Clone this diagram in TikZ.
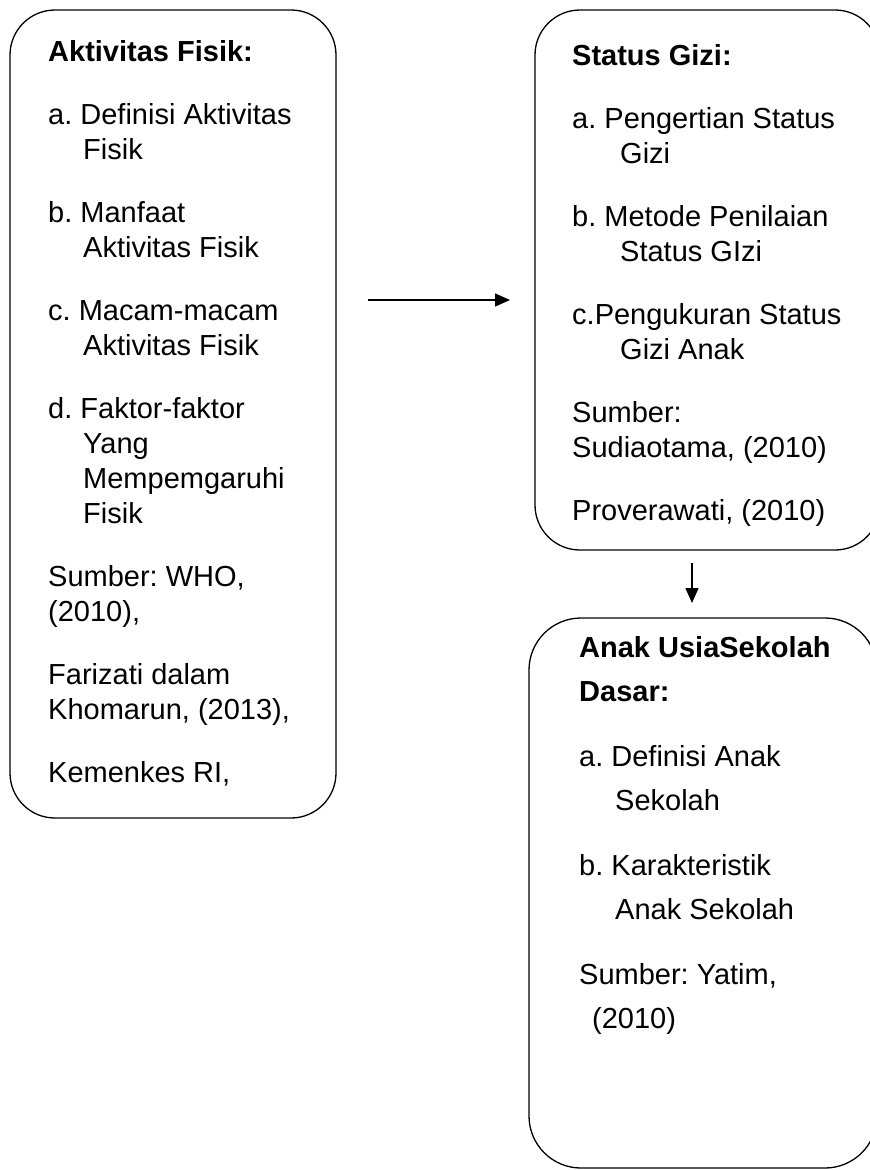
\documentclass[tikz,border=0pt]{standalone}
\usepackage{fontspec}
\setmainfont{Liberation Sans}
\usetikzlibrary{arrows.meta, positioning}

\begin{document}
\frenchspacing
\begin{tikzpicture}[x=1pt, y=-1pt, >={Triangle[length=15pt,width=13pt]},
  panel/.style={draw, line width=1.3pt, rounded corners=45pt},
  teks/.style={anchor=base west, align=left, inner sep=0pt, font=\fontsize{29}{35}\selectfont},
  panah/.style={->, line width=1.5pt}]

\useasboundingbox (0,0) rectangle (870,1170);

% Left box (Aktivitas Fisik), text placed by its last baseline
\node[panel, minimum width=326pt, minimum height=808pt] (fisik) at (173,414) {};
\node[teks] (fisiktxt) at (48,782) {\textbf{Aktivitas Fisik:}\\[28pt]
a. Definisi Aktivitas\\
\hspace*{35pt}Fisik\\[28pt]
b. Manfaat\\
\hspace*{35pt}Aktivitas Fisik\\[28pt]
c. Macam-macam\\
\hspace*{35pt}Aktivitas Fisik\\[28pt]
d. Faktor-faktor\\
\hspace*{35pt}Yang\\
\hspace*{35pt}Mempemgaruhi\\
\hspace*{35pt}Fisik\\[28pt]
Sumber: WHO,\\
(2010),\\[28pt]
Farizati dalam\\
Khomarun, (2013),\\[28pt]
Kemenkes RI,};

% Right top box (Status Gizi)
\node[panel, minimum width=345pt, minimum height=540pt] (gizi) at (707.5,280) {};
\node[teks] (gizitxt) at (572,520) {\textbf{Status Gizi:}\\[28pt]
a. Pengertian Status\\
\hspace*{48pt}Gizi\\[28pt]
b. Metode Penilaian\\
\hspace*{48pt}Status GIzi\\[28pt]
c.Pengukuran Status\\
\hspace*{48pt}Gizi Anak\\[28pt]
Sumber:\\
Sudiaotama, (2010)\\[28pt]
Proverawati, (2010)};

% Right bottom box (Anak Usia Sekolah)
\node[panel, rounded corners=52pt, minimum width=348pt, minimum height=550pt] (anak) at (703,893) {};
\node[teks, font=\fontsize{29}{43.5}\selectfont] (anaktxt) at (579,1028) {\textbf{Anak UsiaSekolah}\\
\textbf{Dasar:}\\[22pt]
a. Definisi Anak\\
\hspace*{36pt}Sekolah\\[22pt]
b. Karakteristik\\
\hspace*{36pt}Anak Sekolah\\[22pt]
Sumber: Yatim,\\
\hspace*{13pt}(2010)};

% arrows
\coordinate (h1) at (368,300);
\coordinate (h2) at (510,300);
\coordinate (v1) at (692,563);
\coordinate (v2) at (692,603);
\draw[panah] (h1) -- (h2);
\draw[panah] (v1) -- (v2);

\end{tikzpicture}
\end{document}
